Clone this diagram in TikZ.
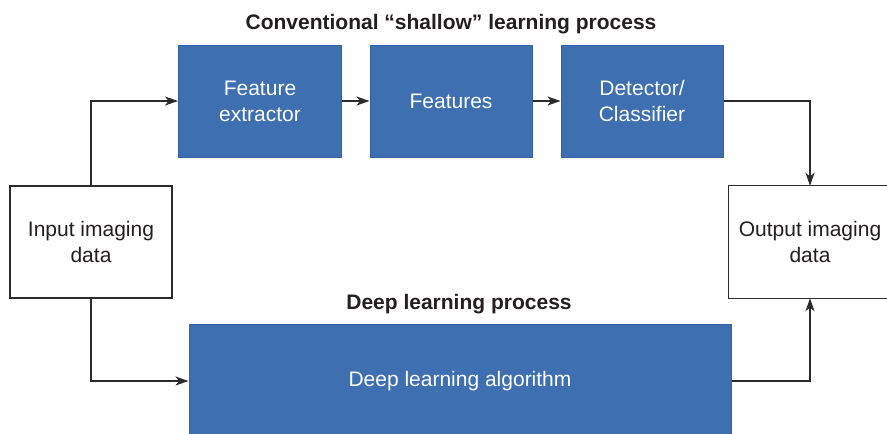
\documentclass[tikz,border=0pt]{standalone}
\usepackage{fontspec}
\setmainfont{Liberation Sans}
\usetikzlibrary{arrows.meta}
\definecolor{boxblue}{HTML}{3D6FB1}
\definecolor{boxedge}{HTML}{3462A4}
\definecolor{ink}{HTML}{231F20}
\definecolor{linec}{HTML}{2B2B2B}
\tikzset{
  bluebox/.style={draw=boxedge, line width=1pt, fill=boxblue, text=white, align=center, inner sep=0pt, font=\fontsize{21}{26}\selectfont},
  whitebox/.style={draw=linec, line width=1.3pt, fill=white, text=ink, align=center, inner sep=0pt, font=\fontsize{21}{26}\selectfont},
  openbox/.style={draw=none, fill=white, text=ink, align=center, inner sep=0pt, font=\fontsize{21}{26}\selectfont},
  boxline/.style={draw=linec, line width=1.3pt},
  titletext/.style={text=ink, font=\bfseries\fontsize{21}{26}\selectfont},
  conn/.style={draw=linec, line width=1.3pt, -{Stealth[length=13pt,width=9pt,inset=3.5pt]}}
}
\begin{document}
\begin{tikzpicture}[x=1pt,y=-1pt]
\useasboundingbox (0,0) rectangle (887,434);
\node[titletext] (t1) at (451,24) {Conventional “shallow” learning process};
\node[titletext] (t2) at (459,304) {Deep learning process};
\node[bluebox, minimum width=163pt, minimum height=112pt] (fe) at (260,101) {Feature\\extractor};
\node[bluebox, minimum width=162pt, minimum height=112pt] (ft) at (451,101) {Features};
\node[bluebox, minimum width=162pt, minimum height=112pt] (dc) at (642,101) {Detector/\\Classifier};
\node[whitebox, minimum width=162pt, minimum height=112pt] (in) at (91,242) {Input imaging\\data};
\node[openbox, minimum width=162pt, minimum height=112pt] (out) at (810,242) {Output imaging\\data};
\draw[boxline] ([xshift=12pt]out.north east) -- (out.north west) -- (out.south west) -- ([xshift=12pt]out.south east);
\node[bluebox, minimum width=542pt, minimum height=120pt, text depth=0pt] (dl) at (460,384) {};
\node[text=white, font=\fontsize{21}{26}\selectfont] (dlt) at (460,381) {Deep learning algorithm};
\draw[conn] (in.north) |- (fe.west);
\draw[conn] (fe.east) -- (ft.west);
\draw[conn] (ft.east) -- (dc.west);
\draw[conn] (dc.east) -| (out.north);
\draw[conn] (in.south) |- ([yshift=3pt]dl.west);
\draw[conn] ([yshift=3pt]dl.east) -| (out.south);
\end{tikzpicture}
\end{document}
